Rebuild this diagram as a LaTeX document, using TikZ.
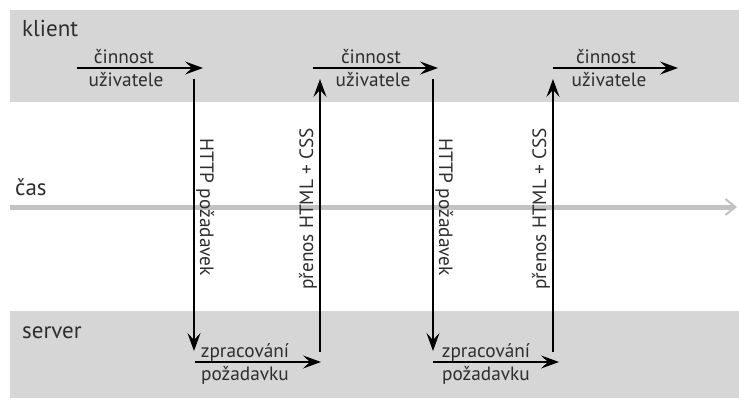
\documentclass[tikz,border=0pt]{standalone}
\usepackage{fontspec}
\setmainfont{PT Sans}
\usetikzlibrary{arrows.meta}
\definecolor{band}{HTML}{D6D6D6}
\definecolor{axis}{HTML}{C2C2C2}
\definecolor{ink}{HTML}{2E2E2E}
\tikzset{
  lane/.style={fill=band, draw=none},
  flow/.style={draw=black, line width=1.4pt, -{Stealth[length=18pt,width=13pt,inset=7pt]}},
  lbl/.style={text=ink, font=\fontsize{19.3}{22}\selectfont, inner sep=0pt, anchor=base},
  vlbl/.style={text=ink, font=\fontsize{19.3}{22}\selectfont, inner sep=0pt, anchor=base west},
  title/.style={text=ink, font=\fontsize{23}{26}\selectfont, anchor=base west, inner sep=0pt},
}
\begin{document}
\begin{tikzpicture}[x=1pt,y=-1pt]
\useasboundingbox (0,0) rectangle (739,399);
% swim lanes
\fill[lane] (10,10) rectangle (739,102);
\fill[lane] (10,311) rectangle (739,398);
% time axis
\coordinate (t0) at (10,207);
\coordinate (t1) at (737,207);
\draw[axis, line width=5pt, -{Straight Barb[length=10pt,width=16pt,line width=2pt]}] (t0) -- (t1);
% lane titles
\node[title] (klient) at (22,36) {klient};
\node[title] (cas) at (15,195) {čas};
\node[title] (server) at (22,338) {server};
% user activity on the client
\foreach \i/\a/\b/\c/\d in {1/77/203/124/126, 2/313/438/371/373, 3/553/678/606/609}{
  \coordinate (ua\i) at (\a,68);
  \coordinate (ub\i) at (\b,68);
  \draw[flow] (ua\i) -- (ub\i);
  \node[lbl] (uat\i) at (\c,63) {činnost};
  \node[lbl] (uab\i) at (\d,86) {uživatele};
}
% request processing on the server
\foreach \i/\a/\b/\c in {1/195/321/245, 2/433/559/486}{
  \coordinate (sa\i) at (\a,362);
  \coordinate (sb\i) at (\b,362);
  \draw[flow] (sa\i) -- (sb\i);
  \node[lbl] (sat\i) at (\c,357) {zpracování};
  \node[lbl] (sab\i) at (\c,380) {požadavku};
}
% HTTP requests going down
\foreach \i/\x in {1/194, 2/433}{
  \coordinate (ra\i) at (\x,79);
  \coordinate (rb\i) at (\x,351);
  \draw[flow] (ra\i) -- (rb\i);
  \node[vlbl, rotate=-90] (rl\i) at (\x+6,138) {HTTP požadavek};
}
% responses going up
\foreach \i/\x in {1/320, 2/553}{
  \coordinate (pa\i) at (\x,352);
  \coordinate (pb\i) at (\x,79);
  \draw[flow] (pa\i) -- (pb\i);
  \node[vlbl, rotate=90] (pl\i) at (\x-7,290) {přenos HTML + CSS};
}
\end{tikzpicture}
\end{document}
